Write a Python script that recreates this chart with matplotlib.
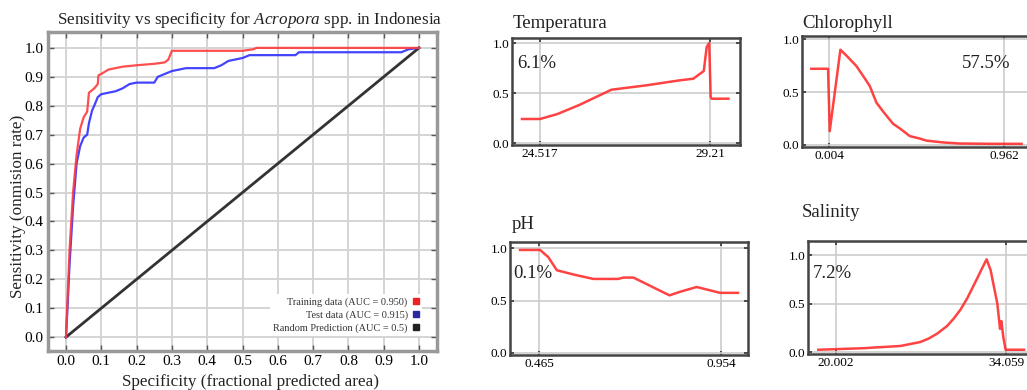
import numpy as np
import matplotlib
matplotlib.use("Agg")
import matplotlib.pyplot as plt
from matplotlib.lines import Line2D

plt.rcParams['font.family'] = ['Liberation Serif', 'DejaVu Serif']
plt.rcParams['mathtext.fontset'] = 'custom'
plt.rcParams['mathtext.rm'] = 'Liberation Serif'
plt.rcParams['mathtext.it'] = 'Liberation Serif:italic'

# ROC curves (fractional predicted area vs sensitivity)
train_x = [0, 0.005, 0.01, 0.02, 0.03, 0.04, 0.05, 0.06, 0.065, 0.08, 0.09, 0.092, 0.1, 0.12,
           0.14, 0.16, 0.2, 0.25, 0.28, 0.29, 0.30, 0.5, 0.53, 0.54, 1.0]
train_y = [0, 0.15, 0.30, 0.50, 0.63, 0.72, 0.76, 0.78, 0.845, 0.86, 0.875, 0.905, 0.91, 0.925,
           0.93, 0.935, 0.94, 0.945, 0.95, 0.96, 0.99, 0.99, 0.995, 1.0, 1.0]
test_x = [0, 0.005, 0.01, 0.02, 0.03, 0.04, 0.05, 0.06, 0.065, 0.074, 0.08, 0.09, 0.1, 0.12,
          0.14, 0.16, 0.18, 0.2, 0.25, 0.26, 0.28, 0.3, 0.32, 0.34, 0.42, 0.44, 0.46, 0.48,
          0.5, 0.52, 0.65, 0.66, 0.95, 0.97, 1.0]
test_y = [0, 0.12, 0.25, 0.45, 0.60, 0.66, 0.69, 0.70, 0.74, 0.784, 0.80, 0.83, 0.84, 0.845,
          0.85, 0.86, 0.875, 0.88, 0.88, 0.90, 0.91, 0.92, 0.925, 0.93, 0.93, 0.94, 0.955, 0.96,
          0.965, 0.975, 0.975, 0.985, 0.985, 0.995, 1.0]
rand_x = [0, 1]
rand_y = [0, 1]
roc_labels = ['Training data (AUC = 0.950)', 'Test data (AUC = 0.915)',
              'Random Prediction (AUC = 0.5)']

# response curves
temp_x = [24.02, 24.517, 25.0, 25.6, 26.49, 27.46, 28.38, 28.75, 29.04, 29.12, 29.19, 29.23,
          29.26, 29.72]
temp_y = [0.24, 0.24, 0.29, 0.38, 0.533, 0.577, 0.627, 0.643, 0.72, 0.96, 1.0, 0.46,
          0.443, 0.443]
chl_x = [-0.093, -0.0015, 0.0077, 0.066, 0.099, 0.154, 0.199, 0.227, 0.263, 0.30, 0.354,
         0.391, 0.446, 0.50, 0.537, 0.628, 0.719, 0.902, 1.057]
chl_y = [0.72, 0.72, 0.13, 0.90, 0.845, 0.745, 0.63, 0.556, 0.40, 0.315, 0.20, 0.156, 0.083,
         0.06, 0.04, 0.023, 0.013, 0.01, 0.01]
ph_x = [0.414, 0.468, 0.49, 0.513, 0.557, 0.611, 0.678, 0.692, 0.719, 0.773, 0.816, 0.844,
        0.889, 0.952, 1.0]
ph_y = [0.984, 0.984, 0.915, 0.79, 0.75, 0.707, 0.707, 0.72, 0.72, 0.625, 0.55, 0.584,
        0.63, 0.574, 0.574]
sal_x = [18.54, 22.27, 25.31, 26.96, 27.65, 28.34, 29.17, 29.72, 30.28, 30.83, 31.66, 32.07,
         32.43, 32.76, 33.32, 33.54, 33.65, 33.81, 34.0, 35.52]
sal_y = [0.024, 0.04, 0.063, 0.104, 0.14, 0.19, 0.27, 0.347, 0.44, 0.556, 0.764, 0.87,
         0.96, 0.85, 0.50, 0.24, 0.32, 0.156, 0.024, 0.024]

W, H = 1027, 390
fig = plt.figure(figsize=(W / 100, H / 100), dpi=100)

def fx(px):
    return px / W

def fy(py):
    return 1 - py / H

# ---- main ROC plot ----
ax = fig.add_axes([fx(48), fy(351), fx(389), 319 / H])
ax.plot(rand_x, rand_y, color='#333333', lw=2)
ax.plot(test_x, test_y, color='#3030ff', lw=1.6, alpha=0.9)
ax.plot(train_x, train_y, color='#ff3b3b', lw=1.6, alpha=0.9)
ax.set_xlim(-0.051, 1.051)
ax.set_ylim(-0.048, 1.055)
ticks = np.round(np.arange(0, 1.01, 0.1), 1)
ax.set_xticks(ticks)
ax.set_yticks(ticks)
ax.set_xticklabels(['%.1f' % t for t in ticks], fontsize=11)
ax.set_yticklabels(['%.1f' % t for t in ticks], fontsize=11)
ax.grid(True, color='#d4d4d4', lw=1.4)
ax.set_axisbelow(True)
ax.tick_params(direction='in', length=4, width=1, color='#555555', top=True, right=True, pad=3)
for s in ax.spines.values():
    s.set_color('#999999')
    s.set_linewidth(2.5)

handles = [Line2D([], [], marker='s', ls='none', color=c, markersize=5)
           for c in ['#ee2222', '#2a2aa0', '#222222']]
leg = ax.legend(handles, roc_labels, loc='lower right', bbox_to_anchor=(0.975, 0.03),
                markerfirst=False, fontsize=7.4, frameon=True, fancybox=False,
                handlelength=0.6, handletextpad=0.5, labelspacing=0.35, borderpad=0.3)
leg.get_frame().set_edgecolor('none')
leg.get_frame().set_facecolor('white')
leg.get_frame().set_alpha(1)
for t in leg.get_texts():
    t.set_color('#333333')
    t.set_ha('right')

fig.text(fx(250), fy(20), r'Sensitivity vs specificity for $\mathit{Acropora}$ spp. in Indonesia',
         ha='center', va='center', fontsize=12.3, color='#222222')
fig.text(fx(251), fy(382), 'Specificity (fractional predicted area)',
         ha='center', va='center', fontsize=12.3, color='#222222')
fig.text(fx(18), fy(206), 'Sensitivity (onmision rate)', rotation=90,
         ha='center', va='center', fontsize=12.3, color='#222222')


# ---- response curves ----
def small(rect, xs, ys, xlim, ylim, xt, xtl, title, tpos, pct, ppos):
    a = fig.add_axes(rect)
    a.plot(xs, ys, color='#ff2e2e', lw=1.8, alpha=0.9)
    a.set_xlim(*xlim)
    a.set_ylim(*ylim)
    a.set_xticks(xt)
    a.set_xticklabels(xtl, fontsize=9.5)
    a.set_yticks([0, 0.5, 1.0])
    a.set_yticklabels(['0.0', '0.5', '1.0'], fontsize=9.5)
    a.grid(True, color='#cccccc', lw=1.2)
    a.set_axisbelow(True)
    a.tick_params(direction='in', length=3, width=1.2, color='#333333', top=True, right=True, pad=2)
    for s in a.spines.values():
        s.set_color('#444444')
        s.set_linewidth(1.8)
    fig.text(fx(tpos[0]), fy(tpos[1]), title, ha='left', va='center', fontsize=13.5, color='#222222')
    fig.text(fx(ppos[0]), fy(ppos[1]), pct, ha='left', va='center', fontsize=13.5, color='#222222')
    return a

small([fx(512), fy(145), fx(228), 107 / H], temp_x, temp_y, (23.744, 30.04), (-0.02, 1.05),
      [24.517, 29.21], ['24.517', '29.21'], 'Temperatura', (513, 24), '6.1%', (517, 63))
small([fx(802), fy(147), fx(240), 111 / H], chl_x, chl_y, (-0.144, 1.169), (-0.02, 1.03),
      [0.004, 0.962], ['0.004', '0.962'], 'Chlorophyll', (802, 24), '57.5%', (962, 63))
small([fx(510), fy(355), fx(238), 113 / H], ph_x, ph_y, (0.387, 1.027), (-0.02, 1.06),
      [0.465, 0.954], ['0.465', '0.954'], 'pH', (512, 225), '0.1%', (513, 273))
small([fx(808), fy(354), fx(240), 113 / H], sal_x, sal_y, (17.69, 37.5), (-0.02, 1.15),
      [20.002, 34.059], ['20.002', '34.059'], 'Salinity', (802, 213), '7.2%', (813, 273))

fig.savefig('out.png', dpi=100)
